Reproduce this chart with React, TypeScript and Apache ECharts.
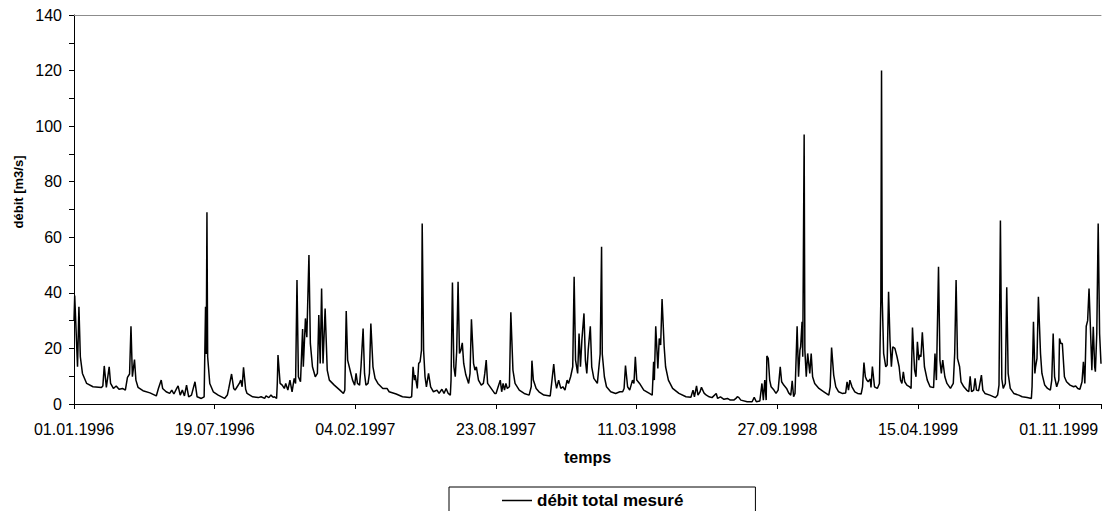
import React, { useEffect, useRef } from "react";
import * as echarts from "echarts";

// Days counted from 01.01.1996
const dayOffsets = [
  0, 1, 5, 7, 9, 12, 18, 27, 39, 41, 43, 46, 50, 52, 56, 60, 64, 69, 73, 76, 79, 81, 83, 86, 88, 91, 98, 108, 117, 120,
  124, 126, 131, 136, 139, 142, 146, 148, 151, 154, 157, 160, 163, 167, 172, 175, 181, 185, 187, 188, 189, 190, 193, 198, 205, 214, 218, 220, 224, 227,
  229, 232, 235, 237, 239, 241, 244, 246, 254, 262, 266, 271, 273, 277, 280, 283, 285, 288, 289, 290, 293, 296, 299, 301, 304, 307, 310, 313, 315, 317,
  319, 322, 325, 326, 329, 331, 334, 336, 339, 343, 346, 348, 350, 352, 354, 357, 360, 363, 370, 378, 383, 385, 387, 389, 393, 396, 399, 401, 403, 406,
  408, 411, 413, 415, 418, 420, 422, 425, 428, 432, 439, 445, 448, 458, 467, 477, 480, 482, 484, 485, 488, 490, 492, 494, 495, 497, 499, 501, 504, 507,
  511, 516, 519, 523, 526, 529, 532, 535, 536, 538, 540, 542, 544, 546, 548, 550, 552, 554, 557, 561, 563, 565, 568, 570, 572, 575, 579, 582, 584, 586,
  588, 593, 598, 600, 603, 606, 608, 610, 612, 614, 616, 619, 621, 624, 627, 633, 640, 647, 650, 651, 653, 657, 661, 668, 677, 679, 682, 684, 686, 689,
  692, 695, 698, 701, 703, 706, 709, 711, 713, 716, 718, 720, 722, 725, 727, 729, 731, 734, 736, 739, 744, 748, 750, 751, 754, 757, 763, 770, 776, 780,
  782, 784, 787, 790, 794, 796, 798, 800, 804, 810, 818, 822, 824, 825, 827, 830, 832, 834, 836, 839, 841, 845, 851, 860, 870, 877, 880, 882, 885, 887,
  890, 892, 896, 899, 903, 907, 913, 915, 919, 924, 929, 933, 938, 941, 943, 945, 948, 957, 964, 967, 970, 975, 978, 980, 982, 984, 985, 987, 989, 991,
  995, 998, 1001, 1004, 1006, 1009, 1013, 1016, 1019, 1021, 1023, 1025, 1028, 1030, 1032, 1033, 1035, 1036, 1038, 1039, 1041, 1043, 1046, 1048, 1050, 1053, 1059, 1066, 1073, 1075,
  1077, 1080, 1083, 1087, 1092, 1097, 1099, 1101, 1103, 1106, 1110, 1114, 1119, 1121, 1123, 1125, 1127, 1129, 1132, 1133, 1135, 1138, 1142, 1145, 1147, 1148, 1149, 1151, 1154, 1156,
  1158, 1160, 1162, 1164, 1167, 1170, 1173, 1175, 1177, 1179, 1181, 1184, 1188, 1190, 1192, 1195, 1197, 1199, 1201, 1202, 1204, 1206, 1209, 1213, 1217, 1222, 1224, 1226, 1229, 1231,
  1233, 1235, 1238, 1241, 1246, 1250, 1252, 1254, 1256, 1259, 1261, 1265, 1269, 1272, 1274, 1276, 1279, 1281, 1283, 1286, 1290, 1292, 1295, 1302, 1310, 1313, 1315, 1317, 1319, 1321,
  1324, 1326, 1328, 1331, 1336, 1343, 1348, 1355, 1361, 1362, 1364, 1366, 1367, 1369, 1371, 1374, 1376, 1380, 1384, 1388, 1390, 1392, 1394, 1397, 1400, 1401, 1403, 1405, 1408, 1411,
  1416, 1421, 1424, 1427, 1430, 1433, 1435, 1437, 1439, 1441, 1443, 1445, 1447, 1449, 1451, 1452, 1454, 1456, 1458, 1460,
];

// Measured total discharge [m3/s]
const discharge = [
  30, 39, 13.4, 35, 17, 11, 7.4, 6.2, 5.9, 6.5, 13.7, 6, 13.4, 7.4, 5.6, 6.5, 5.3, 5.6, 5, 9.6, 10.8, 28, 9.8, 16, 8.6, 6, 4.8, 4, 2.9, 5.6,
  8.6, 5.6, 4.4, 3.8, 5, 3.6, 5.6, 6.5, 3.2, 5, 2.9, 6.8, 2.6, 3.2, 8, 2.6, 2, 2.6, 35, 18, 69, 17, 7.4, 4.4, 3.2, 2, 3.2, 5.6, 10.8, 5.6,
  5, 6.2, 7.4, 8.6, 6.2, 13.2, 5.3, 3.8, 2.6, 2.3, 2.6, 2, 2.9, 2.3, 3.2, 2.4, 2.6, 2, 7.4, 17.6, 7.4, 6.8, 5.6, 7.4, 5, 8.6, 4.4, 9.2, 7.4, 44.6,
  9.8, 8, 27, 13.4, 30.8, 24, 53.6, 21.8, 13.4, 9.8, 11, 32, 14.6, 41.6, 14.6, 34.4, 12.2, 8.6, 6.8, 5, 3.8, 5, 33.5, 15.8, 11.6, 8.6, 6.8, 11, 7.4, 6.8,
  13.4, 27.2, 11, 6.8, 7.4, 11, 29, 13.4, 9.2, 7.4, 5.6, 5.6, 4.4, 3.6, 2.6, 2.3, 2.6, 13.4, 8.6, 10.4, 5.6, 14.6, 15.2, 19.4, 65, 19.4, 9.8, 6.2, 11, 6.2,
  4.4, 5, 3.8, 5.3, 3.8, 5.6, 3.8, 3.2, 8.6, 43.7, 13.4, 9.8, 18.8, 44, 18.2, 19.4, 22, 14.6, 10.5, 7.4, 11, 30.5, 14.6, 12.2, 13.4, 8.6, 6.8, 7.4, 11, 15.8,
  7.4, 5.6, 3.8, 3.8, 6.2, 8.6, 4.4, 7.4, 5, 7.4, 5.6, 6.2, 33, 12.2, 7.4, 5, 3.8, 3.2, 6.2, 15.6, 8.6, 5.6, 4.4, 3.2, 2.9, 7.4, 14.4, 8.6, 5.6, 8.6,
  5.6, 6.2, 5, 8.6, 7.4, 9.8, 13.4, 45.8, 15.8, 11, 25.4, 13.4, 23, 32.6, 15.8, 11, 19.4, 28, 13.4, 9.2, 7.4, 18, 56.6, 18, 9.8, 6.2, 4.4, 3.8, 4.4, 4.4,
  5.6, 13.8, 6.2, 5, 8.6, 7.4, 17, 8.6, 7.4, 5, 3.8, 3.2, 15.2, 8.6, 28, 12.8, 23.6, 21.2, 37.8, 20.6, 13.4, 8.6, 5.6, 3.8, 2.6, 2.4, 5, 2.6, 6.5, 3.2,
  4.4, 6, 3.8, 3.2, 2.6, 2.3, 3.8, 2, 2.6, 1.7, 2, 1.4, 1.4, 2, 2.6, 2.4, 1.4, 0.8, 0.8, 2.4, 0.8, 1.1, 7.4, 1.4, 8.6, 1.4, 17.3, 16.4, 8.6, 6.2,
  5, 3.8, 5, 13.4, 8, 6.8, 5.6, 4, 3.2, 8.3, 2.6, 3.8, 28, 9.8, 19.4, 20.6, 29.6, 17, 97, 19.4, 9.8, 18.2, 11, 18.2, 9.8, 7.4, 5.6, 4.4, 3.2, 6.2,
  20.3, 10.4, 6.2, 4.4, 3.8, 4, 8, 5, 8.6, 6.2, 4.4, 3.8, 3.6, 6.2, 14.9, 9.8, 8.6, 8, 9, 6, 13.5, 6.2, 5.6, 7.4, 37.4, 120, 37.4, 18.2, 13.4, 14,
  40.4, 23, 13.4, 20.6, 20, 17, 13.4, 8.6, 7.4, 11.6, 8, 6.8, 6.2, 5.6, 27.5, 12.2, 9.8, 22.4, 15.8, 17.6, 17, 25.8, 13.4, 8.6, 6.2, 5.9, 18.2, 8.6, 49.4, 15.8,
  11, 15.8, 9.8, 7.4, 5.6, 7.4, 18.2, 44.6, 16.4, 13.4, 8, 6.2, 5, 4.4, 10, 4.4, 5, 9.2, 5, 4.8, 10.4, 5, 3.8, 3.2, 2.3, 3.2, 6.8, 66, 9, 5.6,
  7.4, 42, 11, 5.6, 3.8, 3.2, 2.6, 2.3, 2, 6.2, 29.6, 11, 13.4, 16.4, 38.6, 18.2, 11, 6.8, 5.6, 5, 8.6, 25.4, 9.8, 6.2, 8.6, 23.6, 21.8, 21.8, 9.8, 8,
  6.8, 6.2, 6.5, 5.6, 5.3, 8, 15.2, 7.4, 28, 30, 41.6, 27.2, 12.2, 27.8, 13.4, 11.6, 25.4, 65, 25.4, 14.5,
];

// Tick labels every 200 days
const xTickLabels = [
  "01.01.1996", "19.07.1996", "04.02.1997", "23.08.1997",
  "11.03.1998", "27.09.1998", "15.04.1999", "01.11.1999",
];

const FONT = 'Arial, "Liberation Sans", Helvetica, sans-serif';

export default function App() {
  const ref = useRef<HTMLDivElement>(null);

  useEffect(() => {
    if (!ref.current) return;
    const chart = echarts.init(ref.current, null, { renderer: "svg" });
    const data = dayOffsets.map((d, i) => [d, discharge[i]]);

    chart.setOption({
      animation: false,
      backgroundColor: "#ffffff",
      textStyle: { fontFamily: FONT },
      grid: { left: 74, right: 1.4, top: 15, bottom: 107 },
      xAxis: [
        {
          type: "value",
          min: 0,
          max: 1460,
          interval: 200,
          axisLine: { show: true, onZero: false, lineStyle: { color: "#000", width: 1 } },
          axisTick: { show: true, length: 5, lineStyle: { color: "#000" } },
          axisLabel: {
            fontSize: 16,
            color: "#000",
            margin: 17,
            fontFamily: FONT,
            formatter: (v: number) => (v % 200 === 0 ? xTickLabels[v / 200] ?? "" : ""),
          },
          splitLine: { show: false },
          name: "temps",
          nameLocation: "middle",
          nameGap: 45,
          nameTextStyle: { fontWeight: "bold", fontSize: 16, color: "#000", fontFamily: FONT },
        },
        {
          type: "value",
          position: "top",
          min: 0,
          max: 1460,
          axisLine: { show: true, onZero: false, lineStyle: { color: "#8c8c8c", width: 1 } },
          axisTick: { show: false },
          axisLabel: { show: false },
          splitLine: { show: false },
        },
      ],
      yAxis: {
        type: "value",
        min: 0,
        max: 140,
        interval: 10,
        axisLine: { show: true, lineStyle: { color: "#000", width: 1 } },
        axisTick: { show: true, length: 5, lineStyle: { color: "#000" } },
        axisLabel: {
          fontSize: 16,
          color: "#000",
          margin: 12,
          fontFamily: FONT,
          formatter: (v: number) => (v % 20 === 0 ? String(v) : ""),
        },
        splitLine: { show: false },
      },
      legend: {
        left: 449,
        top: 487,
        orient: "horizontal",
        borderColor: "#000",
        borderWidth: 1,
        backgroundColor: "#fff",
        padding: [5, 72, 14, 53],
        icon: "rect",
        itemWidth: 30,
        itemHeight: 1.5,
        itemStyle: { color: "#000" },
        textStyle: { fontWeight: "bold", fontSize: 17, color: "#000", fontFamily: FONT },
        data: ["débit total mesuré"],
      },
      graphic: [
        {
          type: "text",
          x: 18,
          y: 192,
          rotation: Math.PI / 2,
          style: {
            text: "débit [m3/s]",
            fontSize: 13,
            fontWeight: "bold",
            fontFamily: FONT,
            fill: "#000",
            align: "center",
            verticalAlign: "middle",
          },
        },
      ],
      series: [
        {
          type: "line",
          name: "débit total mesuré",
          xAxisIndex: 0,
          data,
          symbol: "none",
          showSymbol: false,
          lineStyle: { color: "#000", width: 1.5 },
          itemStyle: { color: "#000" },
        },
      ],
    });

    return () => chart.dispose();
  }, []);

  return (
    <div
      ref={ref}
      style={{ position: "absolute", left: 0, top: 0, width: 1104, height: 511 }}
    />
  );
}
